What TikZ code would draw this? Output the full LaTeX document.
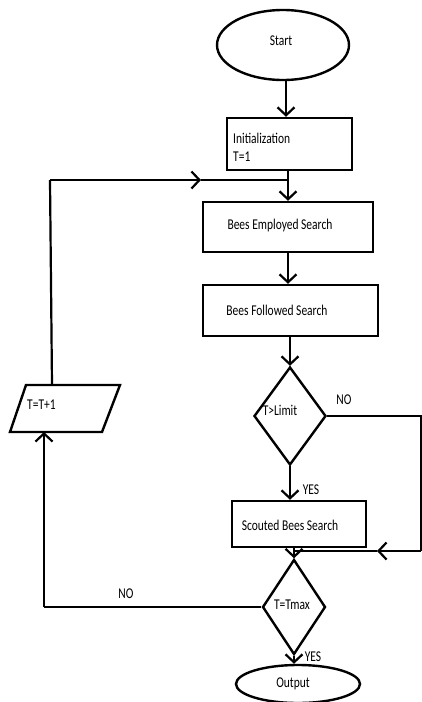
\documentclass[tikz,border=0pt]{standalone}
\usepackage{fontspec}
\usepackage{graphicx}
\setmainfont{Carlito}
\usetikzlibrary{shapes.geometric,arrows.meta}
\newcommand{\vst}[1]{\scalebox{1}[1.3]{#1}}
\begin{document}
\begin{tikzpicture}[x=1pt,y=-1pt,
  every node/.style={font=\fontsize{11.5}{13}\selectfont},
  box/.style={draw,line width=2.4pt,rectangle,inner sep=0pt},
  oval/.style={draw,line width=2.4pt,ellipse,inner sep=0pt},
  dia/.style={draw,line width=2.4pt,diamond,inner sep=0pt},
  shp/.style={draw,line width=2.4pt,line join=miter},
  lab/.style={inner sep=0pt},
  con/.style={line width=2.2pt},
  arr/.style={con,-{Straight Barb[length=8pt,width=17pt]}}]
\useasboundingbox (0,0) rectangle (421,702);
% shapes
\node[oval,minimum width=132pt,minimum height=70pt] (start) at (283,45) {};
\node[box,minimum width=125pt,minimum height=52pt] (init) at (289.5,144) {};
\node[box,minimum width=170pt,minimum height=50pt] (emp) at (288,227) {};
\node[box,minimum width=175pt,minimum height=51pt] (fol) at (290.5,310.5) {};
\node[dia,minimum width=72pt,minimum height=98pt] (lim) at (290,416) {};
\node[box,minimum width=134pt,minimum height=46pt] (sco) at (299,524) {};
\node[dia,minimum width=63pt,minimum height=95pt] (tmax) at (294,607) {};
\node[oval,minimum width=124pt,minimum height=38pt] (out) at (298,684) {};
\coordinate (p1) at (26,385);
\coordinate (p2) at (120,385);
\coordinate (p3) at (102,432);
\coordinate (p4) at (10,432);
\draw[shp] (p1) -- (p2) -- (p3) -- (p4) -- cycle;
% texts
\node[lab] (tstart) at (281,41) {\vst{Start}};
\node[lab,anchor=west] (tinit1) at (233,138) {\vst{Initialization}};
\node[lab,anchor=west] (tinit2) at (233,157) {\vst{T=1}};
\node[lab] (temp) at (280,226) {\vst{Bees Employed Search}};
\node[lab] (tfol) at (277,310) {\vst{Bees Followed Search}};
\node[lab] (tlim) at (280,410) {\vst{T>Limit}};
\node[lab] (tsco) at (290,525) {\vst{Scouted Bees Search}};
\node[lab] (ttmax) at (292,605) {\vst{T=Tmax}};
\node[lab] (tout) at (293,684) {\vst{Output}};
\node[lab,anchor=west] (tinc) at (27,405) {\vst{T=T+1}};
\node[lab] (no1) at (344,400) {\vst{NO}};
\node[lab] (yes1) at (311,490) {\vst{YES}};
\node[lab] (no2) at (126,594) {\vst{NO}};
\node[lab] (yes2) at (313,657) {\vst{YES}};
% coordinates
\coordinate (ptop) at (52,385);
\coordinate (pbot) at (44,432);
\coordinate (lc) at (50,180);
\coordinate (lah) at (201,180);
\coordinate (lj) at (288,180);
\coordinate (r1) at (421,416);
\coordinate (r2) at (421,551);
\coordinate (rah) at (377,551);
\coordinate (rj) at (294,551);
\coordinate (nl) at (44,607);
% connectors
\draw[arr] (start.south -| 286,0) -- (init.north -| 286,0);
\draw[arr] (init.south -| 288,0) -- (emp.north -| 288,0);
\draw[arr] (emp.south -| 288,0) -- (fol.north -| 288,0);
\draw[arr] (fol.south -| 290,0) -- (lim.north);
\draw[arr] (lim.south) -- (lim.south |- sco.north);
\draw[arr] (tmax.north |- sco.south) -- (tmax.north);
\draw[arr] (tmax.south) -- (tmax.south |- out.north);
\draw[con] (ptop) -- (lc);
\draw[arr] (lc) -- (lah);
\draw[con] (lah) -- (lj);
\draw[con] (lim.east) -- (r1) -- (r2);
\draw[arr] (r2) -- (rah);
\draw[con] (rah) -- (rj);
\draw[con] (tmax.west) -- (nl);
\draw[arr] (nl) -- (pbot);
\end{tikzpicture}
\end{document}
